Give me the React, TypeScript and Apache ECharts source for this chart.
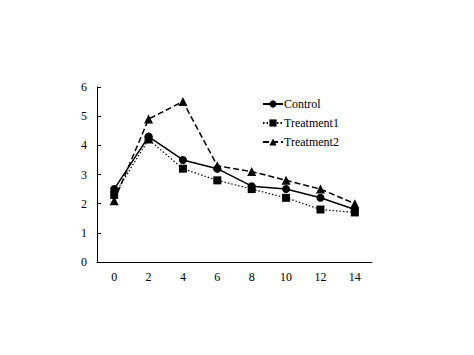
import React, { useEffect, useRef } from "react";
import * as echarts from "echarts";

const categories = ["0", "2", "4", "6", "8", "10", "12", "14"];
const control = [2.5, 4.3, 3.5, 3.2, 2.6, 2.5, 2.2, 1.8];
const treatment1 = [2.3, 4.2, 3.2, 2.8, 2.5, 2.2, 1.8, 1.7];
const treatment2 = [2.1, 4.9, 5.5, 3.3, 3.1, 2.8, 2.5, 2.0];

const FONT = "'Liberation Serif', 'Times New Roman', serif";

export default function App() {
  const ref = useRef<HTMLDivElement>(null);
  useEffect(() => {
    if (!ref.current) return;
    const chart = echarts.init(ref.current, undefined, { renderer: "svg" });
    chart.setOption({
      animation: false,
      backgroundColor: "#ffffff",
      textStyle: { fontFamily: FONT, color: "#000" },
      grid: { left: 97, right: 102, top: 87, bottom: 93, containLabel: false },
      legend: {
        orient: "vertical",
        left: 262,
        top: 98,
        padding: 0,
        itemGap: 7,
        itemWidth: 20,
        itemHeight: 9,
        textStyle: { fontFamily: FONT, fontSize: 12, color: "#000", padding: [0, 0, 0, -4] },
        data: ["Control", "Treatment1", "Treatment2"],
      },
      xAxis: {
        type: "category",
        data: categories,
        boundaryGap: true,
        axisLine: { lineStyle: { color: "#000", width: 1 } },
        axisTick: { inside: true, length: 4, lineStyle: { color: "#000" } },
        axisLabel: { fontFamily: FONT, fontSize: 12, color: "#000", margin: 9 },
        splitLine: { show: false },
      },
      yAxis: {
        type: "value",
        min: 0,
        max: 6,
        interval: 1,
        axisLine: { show: true, lineStyle: { color: "#000", width: 1 } },
        axisTick: { show: true, inside: true, length: 4, lineStyle: { color: "#000" } },
        axisLabel: { fontFamily: FONT, fontSize: 12, color: "#000", margin: 10 },
        splitLine: { show: false },
      },
      series: [
        {
          name: "Control",
          type: "line",
          data: control,
          symbol: "circle",
          symbolSize: 8,
          itemStyle: { color: "#000" },
          lineStyle: { color: "#000", width: 1.5, type: "solid" },
        },
        {
          name: "Treatment1",
          type: "line",
          data: treatment1,
          symbol: "rect",
          symbolSize: 8,
          itemStyle: { color: "#000" },
          lineStyle: { color: "#000", width: 1.2, type: [1.5, 2] },
        },
        {
          name: "Treatment2",
          type: "line",
          data: treatment2,
          symbol: "triangle",
          symbolSize: 9,
          itemStyle: { color: "#000" },
          lineStyle: { color: "#000", width: 1.5, type: [6, 3] },
        },
      ],
    });
    return () => chart.dispose();
  }, []);
  return <div ref={ref} style={{ width: 474, height: 355, position: "absolute", left: 0, top: 0 }} />;
}
